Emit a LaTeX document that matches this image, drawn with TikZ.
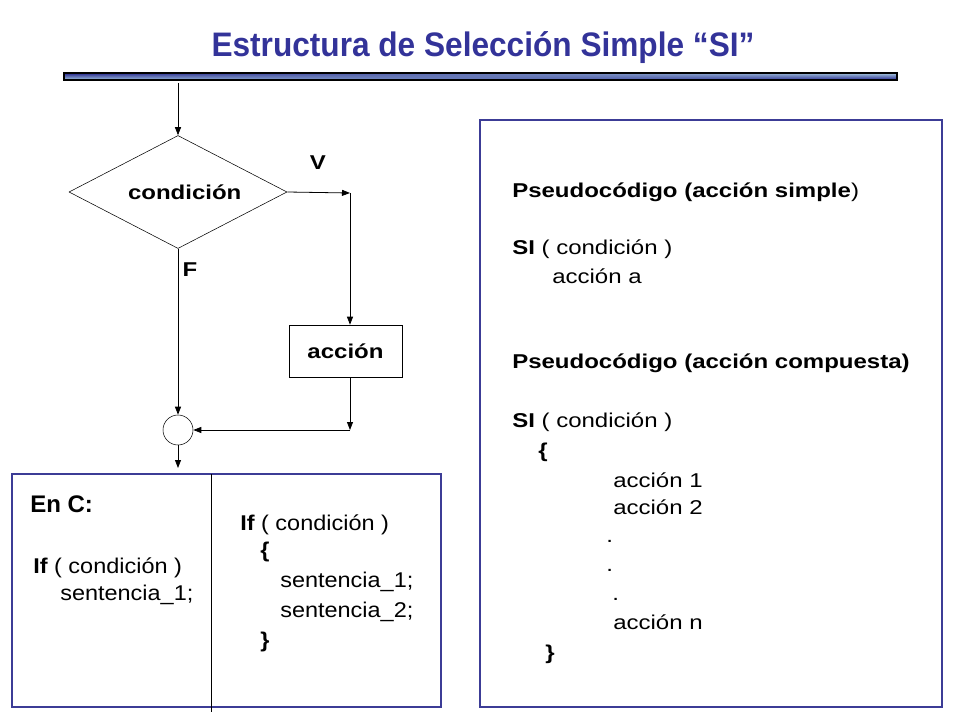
\documentclass[tikz,border=0pt]{standalone}
\usepackage{fontspec}
\setmainfont{Liberation Sans}
\newfontfamily\anchafont[FakeStretch=1.2]{Liberation Sans}
\newfontfamily\codfont[FakeStretch=1.1]{Liberation Sans}
\newfontfamily\titulofont[FakeStretch=0.93]{Liberation Sans}
\usetikzlibrary{arrows.meta,shapes.geometric,fadings}
\definecolor{azultitulo}{RGB}{51,51,153}
\definecolor{azulcaja}{RGB}{60,60,150}
\definecolor{barraosc}{RGB}{35,35,140}
\definecolor{barraclara}{RGB}{170,205,225}
\tikzfading[name=haciaeste, left color=transparent!100, right color=transparent!0]
\tikzset{
  flecha/.style={-{Triangle[length=6pt,width=4.5pt]}, line width=0.6pt},
  caja/.style={draw=azulcaja, line width=1.5pt},
  pseudo/.style={anchor=base west, inner sep=0pt, font=\anchafont\fontsize{15}{18}\selectfont},
  codigo/.style={anchor=base west, inner sep=0pt, font=\codfont\fontsize{16}{19}\selectfont},
  etiq/.style={inner sep=0pt, font=\anchafont\bfseries\fontsize{15}{18}\selectfont}
}

\begin{document}
\begin{tikzpicture}[x=0.75pt, y=-0.75pt]
		%%%%% START %%%%%
		\useasboundingbox (0, 0) rectangle (960, 720);
		
		\node[font=\titulofont\bfseries\fontsize{25.5}{30}\selectfont, text=azultitulo, anchor=base, inner sep=0pt] (titulo) at (483, 57) {Estructura de Selección Simple “SI”};
		
		\shade[top color=barraosc, bottom color=barraclara] (64, 73) rectangle (897, 80);
		\shade[top color=barraclara, bottom color=barraosc, path fading=haciaeste] (64, 73) rectangle (897, 80);
		\draw[line width=0.8pt] (64, 73) rectangle (897, 80);
		
		% diagrama de flujo
		\coordinate (inicio) at (178, 83);
		\node[draw, diamond, aspect=1.93, inner sep=0pt, minimum width=163.5pt, minimum height=84.75pt, etiq] (cond) at (178, 192) {\hspace*{10pt}condición};
		\node[draw, rectangle, minimum width=84.75pt, minimum height=39pt, etiq] (accion) at (345.5, 351) {acción};
		\node[draw, circle, minimum size=22.5pt, inner sep=0pt] (junta) at (178, 430) {};
		\node[etiq] (verdad) at (318, 163) {V};
		\node[etiq] (falso) at (190, 270) {F};
		\coordinate (vder) at (350, 193);
		\coordinate (bajo) at (350, 430);
		\coordinate (fin) at (178, 468);
		
		\draw[flecha] (inicio) -- (cond.north);
		\draw[flecha] (cond.east) -- (vder);
		\draw[flecha] (vder) -- (vder |- accion.north);
		\draw[flecha] (vder |- accion.south) -- (bajo);
		\draw[flecha] (bajo) -- (junta.east);
		\draw[flecha] (cond.south) -- (junta.north);
		\draw[flecha] (junta.south) -- (fin);
		
		% codigo en C
		\draw[caja] (12, 474) rectangle (441, 707);
		\draw[line width=0.6pt] (211, 474) -- (211, 712);
		\node[anchor=base west, inner sep=0pt, font=\bfseries\fontsize{18}{22}\selectfont] (enc) at (30, 512) {En C:};
		\node[codigo] (if1) at (33, 573) {\textbf{If} ( condición )};
		\node[codigo] (sen1) at (60, 600) {sentencia\_1;};
		\node[codigo] (if2) at (240, 530) {\textbf{If} ( condición )};
		\node[codigo] (abre2) at (260, 557) {\textbf{\{}};
		\node[codigo] (sen21) at (280, 587) {sentencia\_1;};
		\node[codigo] (sen22) at (280, 617) {sentencia\_2;};
		\node[codigo] (cierra2) at (260, 647) {\textbf{\}}};
		
		% pseudocodigo
		\draw[caja] (480, 120) rectangle (942, 707);
		\node[pseudo] (ps1) at (512, 198) {\textbf{Pseudocódigo (acción simple})};
		\node[pseudo] (si1) at (512, 255) {\textbf{SI} ( condición )};
		\node[pseudo] (acca) at (552, 284) {acción a};
		\node[pseudo] (ps2) at (512, 368) {\textbf{Pseudocódigo (acción compuesta)}};
		\node[pseudo] (si2) at (512, 427) {\textbf{SI} ( condición )};
		\node[pseudo] (abre) at (538, 457) {\textbf{\{}};
		\node[pseudo] (acc1) at (613, 487) {acción 1};
		\node[pseudo] (acc2) at (613, 514) {acción 2};
		\node[pseudo] (pto1) at (606, 542) {.};
		\node[pseudo] (pto2) at (606, 571) {.};
		\node[pseudo] (pto3) at (612, 600) {.};
		\node[pseudo] (accn) at (613, 629) {acción n};
		\node[pseudo] (cierra) at (545, 659) {\textbf{\}}};
		
		%%%%% END %%%%%
\end{tikzpicture}
\end{document}
